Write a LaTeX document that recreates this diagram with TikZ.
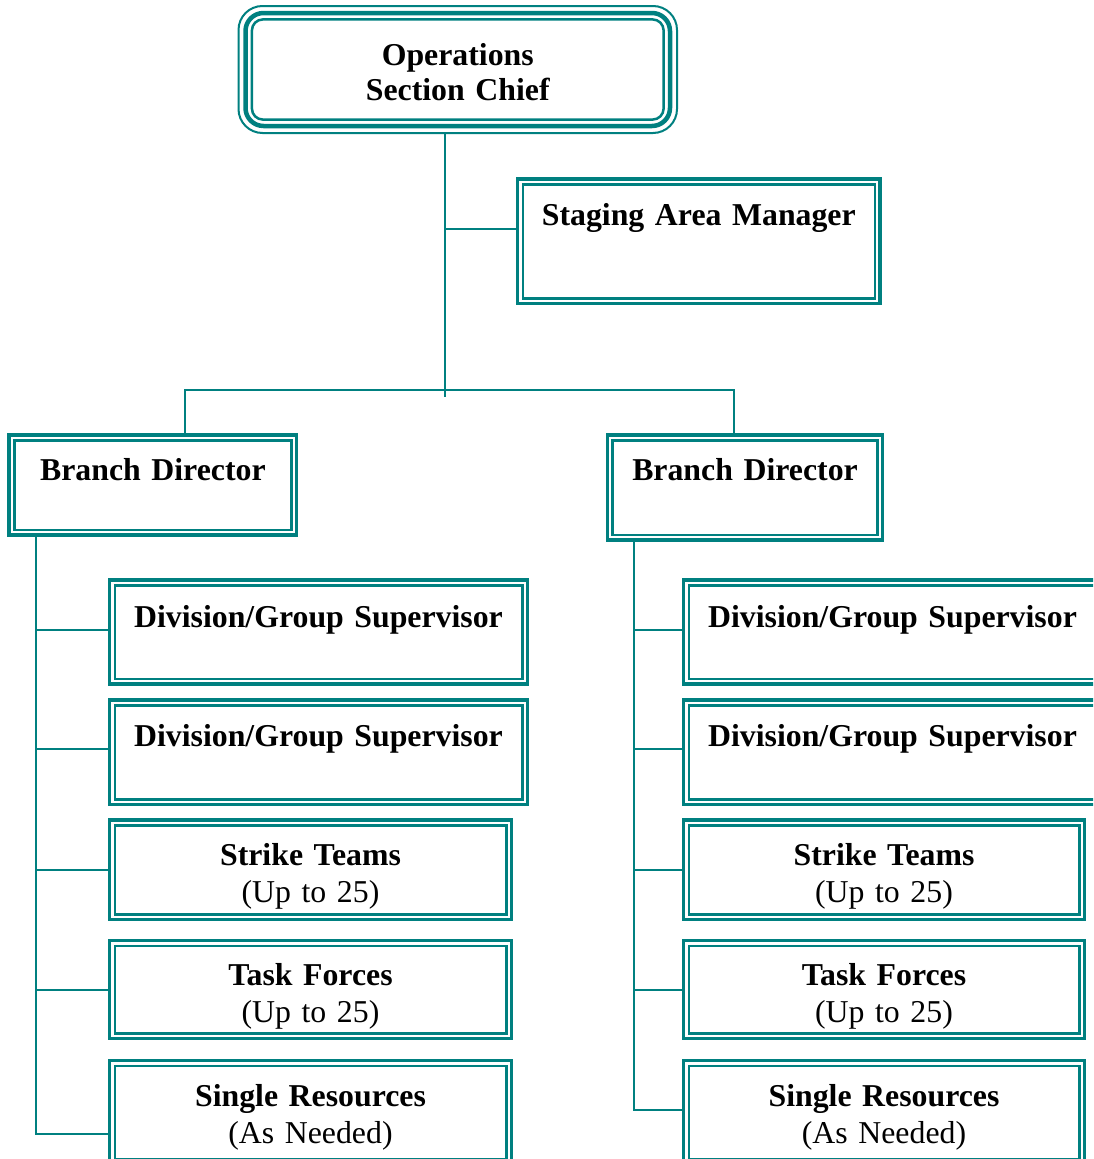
\documentclass[tikz,border=0pt]{standalone}
\usepackage{fontspec}
\setmainfont{Liberation Serif}
\definecolor{tl}{RGB}{0,128,128}
\begin{document}
\begin{tikzpicture}[x=1pt,y=-1pt,
  txt/.style={font=\fontsize{31.8}{37}\selectfont\bfseries, align=center, inner sep=0pt, outer sep=0pt, anchor=north west},
  box/.style={txt, draw=tl, line width=3.2pt,
    path picture={\draw[tl, line width=2.6pt]
      ([shift={(5.2pt,5.2pt)}]path picture bounding box.south west) rectangle
      ([shift={(-5.2pt,-5.2pt)}]path picture bounding box.north east);}},
  topbox/.style={txt, draw=tl, line width=2pt, rounded corners=24pt,
    path picture={
      \draw[tl, line width=4.5pt, rounded corners=18pt]
        ([shift={(7pt,7pt)}]path picture bounding box.south west) rectangle
        ([shift={(-7pt,-7pt)}]path picture bounding box.north east);
      \draw[tl, line width=2.5pt, rounded corners=11pt]
        ([shift={(13.4pt,13.4pt)}]path picture bounding box.south west) rectangle
        ([shift={(-13.4pt,-13.4pt)}]path picture bounding box.north east);}},
  conn/.style={draw=tl, line width=2pt}]
\useasboundingbox (0,0) rectangle (1093,1159);
\clip (0,0) rectangle (1093,1159);
\fill[white] (0,0) rectangle (1093,1159);

% top
\node[topbox, text width=438.5pt, text height=59pt, text depth=68pt] (osc) at (238.5,6) {Operations\\[-2pt]Section Chief};
\node[box, text width=362.4pt, text height=46pt, text depth=78.4pt] (stg) at (517.6,179) {Staging Area Manager};

% branches
\node[box, text width=287.7pt, text height=45pt, text depth=55pt] (bl) at (9,435) {Branch Director};
\node[box, text width=275.4pt, text height=45pt, text depth=60pt] (br) at (607.3,435) {Branch Director};

% left column
\node[box, text width=417.8pt, text height=47pt, text depth=57pt] (ld1) at (109.6,580) {Division/Group Supervisor};
\node[box, text width=417.8pt, text height=46pt, text depth=58.4pt] (ld2) at (109.6,700) {Division/Group Supervisor};
\node[box, text width=401.8pt, text height=45pt, text depth=54.4pt] (lst) at (109.6,820) {Strike Teams\\{\mdseries (Up to 25)}};
\node[box, text width=401.8pt, text height=44.4pt, text depth=53.4pt] (ltf) at (109.6,940.6) {Task Forces\\{\mdseries (Up to 25)}};
\node[box, text width=401.8pt, text height=45.4pt, text depth=58pt] (lsr) at (109.6,1060.6) {Single Resources\\{\mdseries (As Needed)}};

% right column
\node[box, text width=417.8pt, text height=47pt, text depth=57pt] (rd1) at (683.6,580) {Division/Group Supervisor};
\node[box, text width=417.8pt, text height=46pt, text depth=58.4pt] (rd2) at (683.6,700) {Division/Group Supervisor};
\node[box, text width=400.8pt, text height=45pt, text depth=54.4pt] (rst) at (683.6,820) {Strike Teams\\{\mdseries (Up to 25)}};
\node[box, text width=400.8pt, text height=44.4pt, text depth=53.4pt] (rtf) at (683.6,940.6) {Task Forces\\{\mdseries (Up to 25)}};
\node[box, text width=400.8pt, text height=45.4pt, text depth=58pt] (rsr) at (683.6,1060.6) {Single Resources\\{\mdseries (As Needed)}};

% connectors
\coordinate (trunk) at (445,397);
\coordinate (sj) at (445,229);
\coordinate (lb) at (185,390);
\coordinate (rb) at (734,390);
\draw[conn] (trunk |- osc.south) -- (trunk);
\draw[conn] (sj) -- (sj -| stg.west);
\draw[conn] (lb |- bl.north) -- (lb) -- (rb) -- (rb |- br.north);

\coordinate (lsp) at (36,1134);
\coordinate (rsp) at (634,1110);
\draw[conn] (lsp |- bl.south) -- (lsp) -- (lsp -| lsr.west);
\draw[conn] (36,630) -- (ld1.west |- 0,630);
\draw[conn] (36,749) -- (ld2.west |- 0,749);
\draw[conn] (36,870) -- (lst.west |- 0,870);
\draw[conn] (36,990) -- (ltf.west |- 0,990);

\draw[conn] (rsp |- br.south) -- (rsp) -- (rsp -| rsr.west);
\draw[conn] (634,630) -- (rd1.west |- 0,630);
\draw[conn] (634,749) -- (rd2.west |- 0,749);
\draw[conn] (634,870) -- (rst.west |- 0,870);
\draw[conn] (634,990) -- (rtf.west |- 0,990);
\end{tikzpicture}
\end{document}
